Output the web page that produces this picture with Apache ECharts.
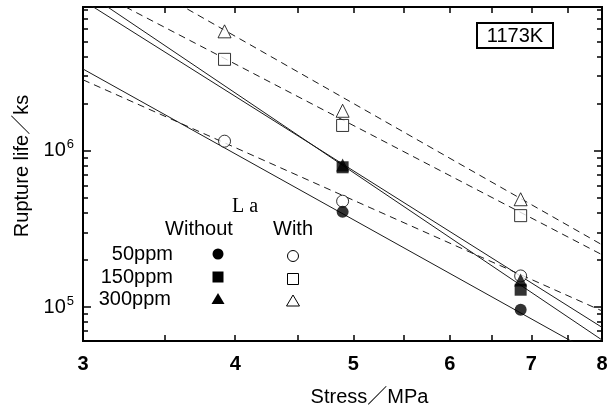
<!DOCTYPE html>
<html>
<head>
<meta charset="utf-8">
<script src="https://cdn.jsdelivr.net/npm/echarts@6/dist/echarts.min.js"></script>
<style>
  html, body { margin: 0; padding: 0; background: #fff; }
  #main { width: 615px; height: 412px; }
</style>
</head>
<body>
<div id="main"></div>
<script>
// test stresses (MPa)
const stress = [3.92, 4.90, 6.86];

// rupture life (ks) per alloy, null where no point is visible
const without50 = [null, 4.06e5, 9.6e4];
const with50 = [1.15e6, 4.75e5, 1.58e5];
const without150 = [null, 7.83e5, 1.29e5];
const with150 = [3.84e6, 1.45e6, 3.84e5];
const without300 = [null, 8.1e5, 1.49e5];
const with300 = [5.8e6, 1.8e6, 4.89e5];

// fitted lines, values at stress 3 and 8 MPa
const fitX = [3, 8];
const fitWithout50 = [3.33e6, 4.70e4];
const fitWith50 = [2.84e6, 9.44e4];
const fitWithout150 = [1.06e7, 6.15e4];
const fitWith150 = [1.15e7, 2.16e5];
const fitWithout300 = [9.14e6, 7.41e4];
const fitWith300 = [1.93e7, 2.50e5];

// axis ticks
const xTicks = [3, 3.5, 4, 4.5, 5, 5.5, 6, 6.5, 7, 7.5, 8];
const xLabels = [3, 4, 5, 6, 7, 8];
const yMajor = [1e5, 1e6];
const yMinor = [7e4, 8e4, 9e4, 2e5, 3e5, 4e5, 5e5, 6e5, 7e5, 8e5, 9e5, 2e6, 3e6, 4e6, 5e6, 6e6, 7e6, 8e6];

const ink = '#000';
const font = '"Liberation Sans", Arial, "Noto Sans CJK JP", sans-serif';

function pts(ys) {
    return stress.map((x, i) => [x, ys[i]]).filter(p => p[1] != null);
}
function fit(ys) {
    return fitX.map((x, i) => [x, ys[i]]);
}

function lineSeries(name, ys, dashed) {
    return {
        name: name,
        type: 'line',
        data: fit(ys),
        symbol: 'none',
        z: 2,
        lineStyle: { color: '#1a1a1a', width: 1, type: dashed ? [7, 5] : 'solid' }
    };
}
function dotSeries(name, ys, symbol, filled) {
    return {
        name: name,
        type: 'scatter',
        data: pts(ys),
        symbol: symbol,
        symbolSize: symbol === 'triangle' ? 13 : 12,
        z: filled ? 4 : 3,
        itemStyle: filled
            ? { color: ink }
            : { color: '#fff', borderColor: ink, borderWidth: 1 }
    };
}

const xBase = {
    type: 'log', logBase: 10, min: 3, max: 8,
    splitLine: { show: false },
    axisLine: { show: true, onZero: false, lineStyle: { color: ink, width: 2 } },
    axisTick: { show: true, inside: true, length: 6, customValues: xTicks, lineStyle: { color: ink, width: 1.5 } }
};

function yAxis(pos, ticks, len, labels) {
    return {
        type: 'log', logBase: 10, min: 6.06e4, max: 8.3e6,
        position: pos,
        splitLine: { show: false },
        axisLine: { show: true, onZero: false, lineStyle: { color: ink, width: 2 } },
        axisTick: { show: true, inside: true, length: len, customValues: ticks, lineStyle: { color: ink, width: 1.5 } },
        axisLabel: labels ? {
            customValues: yMajor,
            margin: 9,
            color: ink,
            fontFamily: font,
            fontSize: 20,
            formatter: v => '10{s|' + Math.round(Math.log10(v)) + '}',
            rich: { s: { fontSize: 13, fontFamily: font, color: ink, verticalAlign: 'top', padding: [0, 0, 12, 1] } }
        } : { show: false }
    };
}

const option = {
    backgroundColor: '#fff',
    animation: false,
    grid: { left: 83, right: 13, top: 7, bottom: 61 },
    xAxis: [
        Object.assign({}, xBase, {
            position: 'bottom',
            axisLabel: {
                customValues: xLabels, margin: 13, color: ink, fontFamily: font, fontSize: 20, fontWeight: 'bold',
                formatter: v => String(Math.round(v))
            },
            name: 'Stress／MPa',
            nameLocation: 'middle',
            nameGap: 46,
            nameTextStyle: { color: ink, fontFamily: font, fontSize: 20, padding: [0, 0, 0, 54] }
        }),
        Object.assign({}, xBase, { position: 'top', axisLabel: { show: false } })
    ],
    yAxis: [
        Object.assign(yAxis('left', yMajor, 8, true), {
            name: 'Rupture life／ks',
            nameLocation: 'middle',
            nameGap: 48,
            nameTextStyle: { color: ink, fontFamily: font, fontSize: 20, padding: [0, 0, 0, 16] }
        }),
        yAxis('left', yMinor, 5, false),
        yAxis('right', yMajor, 8, false),
        yAxis('right', yMinor, 5, false)
    ],
    series: [
        lineSeries('fit 50ppm without', fitWithout50, false),
        lineSeries('fit 150ppm without', fitWithout150, false),
        lineSeries('fit 300ppm without', fitWithout300, false),
        lineSeries('fit 50ppm with', fitWith50, true),
        lineSeries('fit 150ppm with', fitWith150, true),
        lineSeries('fit 300ppm with', fitWith300, true),
        dotSeries('50ppm without', without50, 'circle', true),
        dotSeries('300ppm without', without300, 'triangle', true),
        dotSeries('150ppm without', without150, 'rect', true),
        dotSeries('50ppm with', with50, 'circle', false),
        dotSeries('150ppm with', with150, 'rect', false),
        dotSeries('300ppm with', with300, 'triangle', false)
    ],
    graphic: [
        // temperature box
        { type: 'rect', shape: { x: 477, y: 23, width: 76, height: 25 }, style: { fill: '#fff', stroke: ink, lineWidth: 2 }, z: 10 },
        { type: 'text', x: 515, y: 36, z: 11, style: { text: '1173K', font: '20px ' + font, fill: ink, align: 'center', verticalAlign: 'middle' } },
        // legend table
        { type: 'text', x: 245, y: 207, z: 10, style: { text: 'L a', font: '20px "Liberation Serif", "DejaVu Serif", serif', fill: ink, align: 'center', verticalAlign: 'middle' } },
        { type: 'text', x: 199, y: 229, z: 10, style: { text: 'Without', font: '20px ' + font, fill: ink, align: 'center', verticalAlign: 'middle' } },
        { type: 'text', x: 293, y: 229, z: 10, style: { text: 'With', font: '20px ' + font, fill: ink, align: 'center', verticalAlign: 'middle' } },
        { type: 'text', x: 173, y: 254, z: 10, style: { text: '50ppm', font: '20px ' + font, fill: ink, align: 'right', verticalAlign: 'middle' } },
        { type: 'text', x: 173, y: 277, z: 10, style: { text: '150ppm', font: '20px ' + font, fill: ink, align: 'right', verticalAlign: 'middle' } },
        { type: 'text', x: 171, y: 299, z: 10, style: { text: '300ppm', font: '20px ' + font, fill: ink, align: 'right', verticalAlign: 'middle' } },
        { type: 'circle', shape: { cx: 218, cy: 254, r: 5.5 }, style: { fill: ink }, z: 10 },
        { type: 'rect', shape: { x: 212.5, y: 271.5, width: 11, height: 11 }, style: { fill: ink }, z: 10 },
        { type: 'polygon', shape: { points: [[218, 293], [224.5, 304], [211.5, 304]] }, style: { fill: ink }, z: 10 },
        { type: 'circle', shape: { cx: 293, cy: 256, r: 5.5 }, style: { fill: '#fff', stroke: ink, lineWidth: 1 }, z: 10 },
        { type: 'rect', shape: { x: 287.5, y: 273.5, width: 11, height: 11 }, style: { fill: '#fff', stroke: ink, lineWidth: 1 }, z: 10 },
        { type: 'polygon', shape: { points: [[293, 295], [299.5, 306], [286.5, 306]] }, style: { fill: '#fff', stroke: ink, lineWidth: 1 }, z: 10 }
    ]
};

const chart = echarts.init(document.getElementById('main'), null, { renderer: 'canvas' });
chart.setOption(option);
</script>
</body>
</html>
